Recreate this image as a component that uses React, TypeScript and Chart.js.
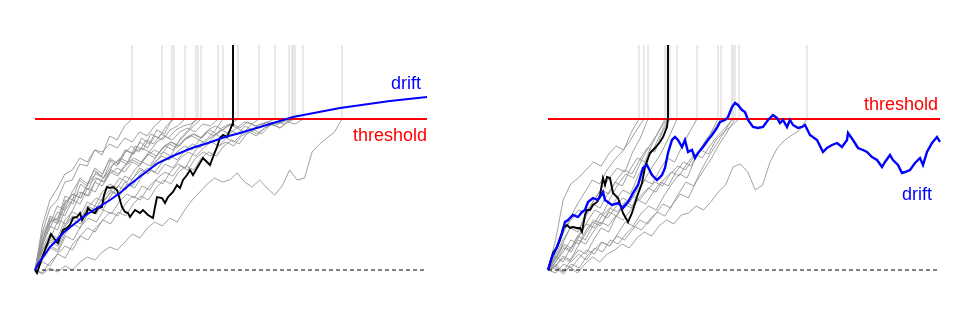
import React, { useEffect, useRef } from "react";
import { Chart, registerables } from "chart.js";

Chart.register(...registerables);

// time axis 0..392, level axis: baseline 0, threshold 151
const T_MAX = 392;
const THRESHOLD = 151;
const TOP = 225;

// ---------- left panel ----------
const leftDriftT = [0, 3, 8, 15, 22, 28, 38, 48, 62, 75, 85, 93, 107, 123, 140, 157, 173, 190, 205, 225, 258, 305, 355, 392];
const leftDriftV = [0, 6, 13, 23, 30, 37, 45, 53, 62, 70, 77, 84, 95, 107, 115, 122, 127, 133, 137, 143, 153, 162, 169, 173];

const leftBlackT = [0, 2, 8, 13, 16, 18, 22, 23, 25, 28, 32, 35, 38, 42, 45, 47, 48, 52, 53, 57, 60, 63, 67, 69, 72, 75, 78, 82, 83, 87, 90, 93, 95, 100, 105, 108, 113, 118, 120, 122, 127, 130, 133, 138, 142, 145, 148, 152, 155, 158, 162, 165, 168, 172, 175, 178, 182, 185, 188, 192, 195, 197, 198];
const leftBlackV = [0, -3, 15, 28, 36, 33, 28, 27, 33, 40, 42, 45, 52, 53, 57, 50, 52, 58, 62, 58, 57, 62, 63, 75, 83, 82, 83, 80, 77, 63, 58, 57, 53, 60, 57, 60, 55, 52, 63, 73, 72, 67, 73, 78, 85, 82, 90, 95, 100, 95, 102, 107, 112, 108, 105, 113, 123, 132, 135, 133, 140, 145, 151];

const leftGrayEnds = [97, 127, 137, 139, 150, 161, 163, 166, 183, 188, 203, 224, 240, 254, 257, 258, 260, 268, 307];
const lg1 = [0, 38, 62, 70, 88, 90, 106, 104, 120, 115, 134, 130, 144, 151];
const lg2 = [0, 45, 70, 82, 96, 100, 112, 108, 120, 118, 126, 122, 132, 128, 138, 134, 144, 151];
const lg3 = [0, 26, 48, 52, 70, 66, 86, 80, 98, 92, 110, 106, 120, 116, 132, 126, 140, 136, 151];
const lg4 = [0, 20, 32, 50, 46, 62, 78, 74, 92, 88, 104, 112, 108, 124, 120, 136, 132, 144, 151];
const lg5 = [0, 28, 54, 50, 74, 70, 92, 86, 102, 96, 112, 106, 120, 116, 128, 122, 134, 130, 140, 144, 151];
const lg6 = [0, 14, 30, 26, 44, 54, 50, 64, 72, 68, 80, 92, 88, 100, 108, 104, 116, 124, 120, 132, 140, 151];
const lg7 = [0, 34, 46, 64, 60, 78, 90, 84, 100, 94, 110, 104, 116, 124, 118, 130, 126, 136, 132, 140, 144, 146, 151];
const lg8 = [0, 12, 24, 20, 36, 46, 42, 56, 64, 60, 74, 84, 80, 92, 100, 96, 108, 118, 114, 128, 136, 144, 151];
const lg9 = [0, 30, 50, 46, 66, 76, 72, 88, 96, 92, 104, 110, 106, 118, 122, 118, 128, 134, 130, 138, 142, 138, 146, 144, 151];
const lg10 = [0, 8, 4, 16, 24, 20, 34, 42, 38, 50, 58, 54, 66, 74, 70, 82, 90, 86, 98, 106, 102, 116, 126, 132, 140, 151];
const lg11 = [0, 24, 44, 40, 60, 70, 66, 82, 78, 92, 98, 94, 104, 110, 106, 116, 112, 122, 128, 124, 132, 136, 132, 140, 144, 140, 146, 151];
const lg12 = [0, 28, 42, 58, 54, 70, 78, 74, 88, 84, 96, 102, 98, 108, 104, 114, 120, 116, 126, 122, 130, 134, 130, 138, 134, 142, 146, 142, 148, 146, 151];
const lg13 = [0, 20, 32, 28, 46, 54, 50, 64, 60, 72, 80, 76, 88, 84, 96, 102, 98, 108, 114, 110, 120, 126, 122, 130, 136, 132, 140, 136, 144, 140, 146, 148, 151];
const lg14 = [0, 22, 36, 32, 50, 58, 54, 68, 64, 78, 86, 82, 94, 90, 102, 98, 108, 114, 110, 118, 124, 120, 130, 126, 134, 140, 136, 142, 138, 146, 142, 148, 144, 148, 151];
const lg15 = [0, -3, 8, 16, 12, 26, 34, 30, 42, 50, 46, 58, 54, 66, 74, 70, 82, 90, 86, 98, 104, 100, 112, 118, 114, 124, 130, 126, 136, 140, 136, 144, 148, 146, 151];
const lg16 = [0, 36, 52, 48, 68, 76, 72, 86, 92, 88, 100, 96, 106, 112, 108, 118, 114, 124, 128, 124, 132, 136, 132, 140, 136, 142, 146, 142, 148, 144, 146, 148, 146, 149, 151];
const lg17 = [0, 10, 22, 18, 34, 30, 44, 52, 48, 60, 56, 68, 76, 72, 84, 80, 92, 98, 94, 104, 100, 112, 118, 114, 124, 128, 124, 134, 138, 134, 142, 146, 142, 148, 151];
const lg18 = [0, 16, 28, 24, 40, 50, 46, 60, 56, 70, 78, 74, 86, 82, 94, 100, 96, 106, 102, 112, 118, 114, 122, 128, 124, 132, 128, 136, 140, 136, 142, 146, 142, 148, 146, 151];
const lg19 = [0, -4, 2, -2, 4, 0, 8, 13, 10, 18, 23, 20, 28, 36, 32, 42, 48, 44, 52, 48, 60, 70, 78, 86, 92, 88, 90, 97, 88, 83, 90, 82, 75, 84, 100, 90, 92, 118, 126, 132, 138, 151];
const leftGrayPaths = [lg1, lg2, lg3, lg4, lg5, lg6, lg7, lg8, lg9, lg10, lg11, lg12, lg13, lg14, lg15, lg16, lg17, lg18, lg19];

// ---------- right panel ----------
const rightDriftT = [0, 4, 9, 14, 17, 20, 25, 30, 34, 37, 40, 45, 50, 55, 57, 64, 70, 75, 80, 85, 90, 95, 99, 104, 109, 114, 117, 120, 124, 127, 130, 134, 137, 140, 144, 147, 150, 155, 160, 164, 169, 172, 177, 180, 184, 187, 190, 194, 197, 200, 205, 210, 215, 220, 225, 229, 232, 235, 239, 242, 245, 250, 254, 257, 262, 269, 275, 279, 284, 289, 294, 299, 300, 305, 310, 315, 319, 324, 329, 334, 337, 342, 345, 350, 354, 357, 362, 367, 372, 375, 379, 384, 389, 392];
const rightDriftV = [0, 13, 23, 37, 48, 50, 55, 53, 58, 60, 68, 72, 70, 78, 70, 65, 67, 62, 68, 77, 85, 102, 105, 95, 90, 95, 102, 117, 130, 133, 130, 123, 130, 118, 120, 112, 117, 123, 130, 135, 142, 148, 150, 153, 163, 167, 165, 160, 158, 150, 143, 142, 143, 150, 155, 152, 147, 150, 143, 150, 145, 142, 143, 145, 135, 130, 118, 122, 125, 127, 123, 130, 137, 130, 122, 120, 118, 113, 110, 103, 108, 115, 110, 105, 97, 98, 100, 107, 112, 105, 118, 127, 133, 128];

const rightBlackT = [0, 2, 5, 9, 12, 14, 15, 19, 22, 25, 29, 32, 34, 37, 39, 42, 45, 49, 52, 55, 57, 59, 62, 65, 70, 75, 80, 84, 89, 94, 97, 102, 107, 112, 115, 119, 120];
const rightBlackV = [0, 7, 17, 23, 30, 37, 42, 45, 42, 43, 42, 42, 38, 55, 60, 60, 65, 68, 75, 92, 85, 93, 92, 77, 72, 57, 48, 57, 73, 87, 103, 117, 122, 128, 133, 143, 152];

const rightGrayEnds = [91, 96, 100, 117, 119, 120, 122, 129, 149, 170, 173, 184, 185, 187, 191, 259];
const rg1 = [0, 30, 70, 86, 92, 100, 108, 104, 116, 124, 120, 138, 151];
const rg2 = [0, 18, 36, 52, 66, 78, 90, 86, 100, 110, 118, 128, 140, 151];
const rg3 = [0, 12, 28, 44, 40, 58, 70, 82, 92, 102, 98, 118, 132, 151];
const rg4 = [0, 8, 22, 18, 34, 48, 60, 56, 72, 86, 96, 92, 110, 124, 136, 151];
const rg5 = [0, 15, 30, 42, 38, 52, 66, 62, 76, 88, 84, 100, 112, 108, 126, 140, 151];
const rg6 = [0, 4, 14, 10, 24, 36, 48, 44, 58, 70, 80, 76, 94, 108, 120, 136, 151];
const rg7 = [0, 20, 38, 50, 60, 56, 70, 80, 76, 90, 100, 96, 110, 122, 118, 138, 151];
const rg8 = [0, 6, -2, 10, 20, 16, 30, 42, 38, 54, 66, 62, 80, 94, 106, 118, 134, 151];
const rg9 = [0, 10, 24, 20, 34, 30, 44, 56, 52, 62, 72, 68, 80, 90, 86, 100, 112, 108, 124, 138, 151];
const rg10 = [0, -3, 6, 2, 12, 20, 16, 28, 24, 36, 48, 44, 56, 64, 60, 74, 86, 96, 92, 110, 124, 136, 151];
const rg11 = [0, 14, 8, 22, 30, 26, 38, 48, 44, 54, 50, 60, 70, 66, 78, 88, 84, 98, 108, 104, 118, 130, 140, 151];
const rg12 = [0, 4, 12, 8, 16, 10, 20, 28, 24, 34, 30, 40, 50, 46, 56, 66, 62, 76, 88, 84, 100, 114, 126, 138, 151];
const rg13 = [0, 12, 26, 22, 36, 46, 42, 54, 62, 58, 68, 64, 74, 82, 78, 90, 98, 94, 106, 116, 112, 124, 134, 142, 151];
const rg14 = [0, 2, -4, 6, 2, 14, 22, 18, 30, 26, 36, 44, 40, 50, 58, 54, 66, 76, 72, 88, 100, 112, 126, 138, 151];
const rg15 = [0, 8, 18, 30, 26, 40, 50, 46, 58, 54, 66, 74, 70, 80, 88, 84, 96, 104, 100, 112, 120, 116, 130, 138, 144, 151];
const rg16 = [0, 4, -2, 3, -3, 6, 13, 8, 16, 20, 26, 22, 32, 38, 34, 44, 50, 46, 55, 57, 64, 60, 68, 78, 85, 103, 106, 98, 80, 85, 108, 122, 130, 135, 140, 151];
const rightGrayPaths = [rg1, rg2, rg3, rg4, rg5, rg6, rg7, rg8, rg9, rg10, rg11, rg12, rg13, rg14, rg15, rg16];

const FONT = '18px "Liberation Sans", Arial, Helvetica, sans-serif';
const BLUE = "#0000ff";
const RED = "#ff0000";

type Label = { text: string; color: string; t: number; v: number };

function pairs(ts: number[], vs: number[]) {
  return ts.map((t, i) => ({ x: t, y: vs[i] }));
}

function buildDatasets(
  driftT: number[], driftV: number[], driftWidth: number, blackT: number[], blackV: number[],
  grayEnds: number[], grayPaths: number[][]
) {
  const top: any[] = [];
  const blackEnd = blackT[blackT.length - 1];
  top.push({ data: pairs(driftT, driftV), borderColor: BLUE, borderWidth: driftWidth });
  top.push({ data: [...pairs(blackT, blackV), { x: blackEnd, y: TOP }], borderColor: "#000000", borderWidth: 1.9 });
  top.push({ data: [{ x: 0, y: THRESHOLD }, { x: T_MAX, y: THRESHOLD }], borderColor: RED, borderWidth: 2 });
  top.push({ data: [{ x: 0, y: 0 }, { x: T_MAX, y: 0 }], borderColor: "#000000", borderWidth: 1, borderDash: [4, 3] });
  grayPaths.forEach((vals, k) => {
    const end = grayEnds[k];
    top.push({
      data: vals.map((v, i) => ({ x: (i * end) / (vals.length - 1), y: v })),
      borderColor: "rgba(145,145,145,0.85)",
      borderWidth: 1,
    });
  });
  grayEnds.forEach((end) => {
    top.push({ data: [{ x: end, y: THRESHOLD }, { x: end, y: TOP }], borderColor: "#d4d4d4", borderWidth: 1 });
  });
  return top.map((d) => ({ ...d, pointRadius: 0, tension: 0, fill: false, clip: false }));
}

function makeChart(canvas: HTMLCanvasElement, datasets: any[], padLeft: number, padRight: number, labels: Label[]) {
  const labelPlugin = {
    id: "panelLabels",
    afterDatasetsDraw(chart: any) {
      const { ctx, scales } = chart;
      ctx.save();
      ctx.font = FONT;
      ctx.textAlign = "right";
      ctx.textBaseline = "alphabetic";
      labels.forEach((l) => {
        ctx.fillStyle = l.color;
        ctx.fillText(l.text, scales.x.getPixelForValue(l.t), scales.y.getPixelForValue(l.v));
      });
      ctx.restore();
    },
  };
  return new Chart(canvas, {
    type: "line",
    data: { datasets },
    options: {
      animation: false,
      responsive: false,
      events: [],
      layout: { padding: { left: padLeft, right: padRight, top: 20, bottom: 27 } },
      plugins: { legend: { display: false }, tooltip: { enabled: false } },
      scales: {
        x: { type: "linear", min: 0, max: T_MAX, display: false },
        y: { type: "linear", min: -30, max: 250, display: false },
      },
    },
    plugins: [labelPlugin],
  } as any);
}

export default function App() {
  const leftRef = useRef<HTMLCanvasElement>(null);
  const rightRef = useRef<HTMLCanvasElement>(null);

  useEffect(() => {
    const left = makeChart(
      leftRef.current!,
      buildDatasets(leftDriftT, leftDriftV, 2, leftBlackT, leftBlackV, leftGrayEnds, leftGrayPaths),
      35, 63,
      [
        { text: "drift", color: BLUE, t: 386, v: 181 },
        { text: "threshold", color: RED, t: 392, v: 129 },
      ]
    );
    const right = makeChart(
      rightRef.current!,
      buildDatasets(rightDriftT, rightDriftV, 2.4, rightBlackT, rightBlackV, rightGrayEnds, rightGrayPaths),
      58, 40,
      [
        { text: "threshold", color: RED, t: 390, v: 160 },
        { text: "drift", color: BLUE, t: 384, v: 70 },
      ]
    );
    return () => {
      left.destroy();
      right.destroy();
    };
  }, []);

  return (
    <div style={{ position: "fixed", left: 0, top: 0, width: 980, height: 327, background: "#ffffff" }}>
      <canvas ref={leftRef} width={490} height={327} style={{ position: "absolute", left: 0, top: 0 }} />
      <canvas ref={rightRef} width={490} height={327} style={{ position: "absolute", left: 490, top: 0 }} />
    </div>
  );
}
